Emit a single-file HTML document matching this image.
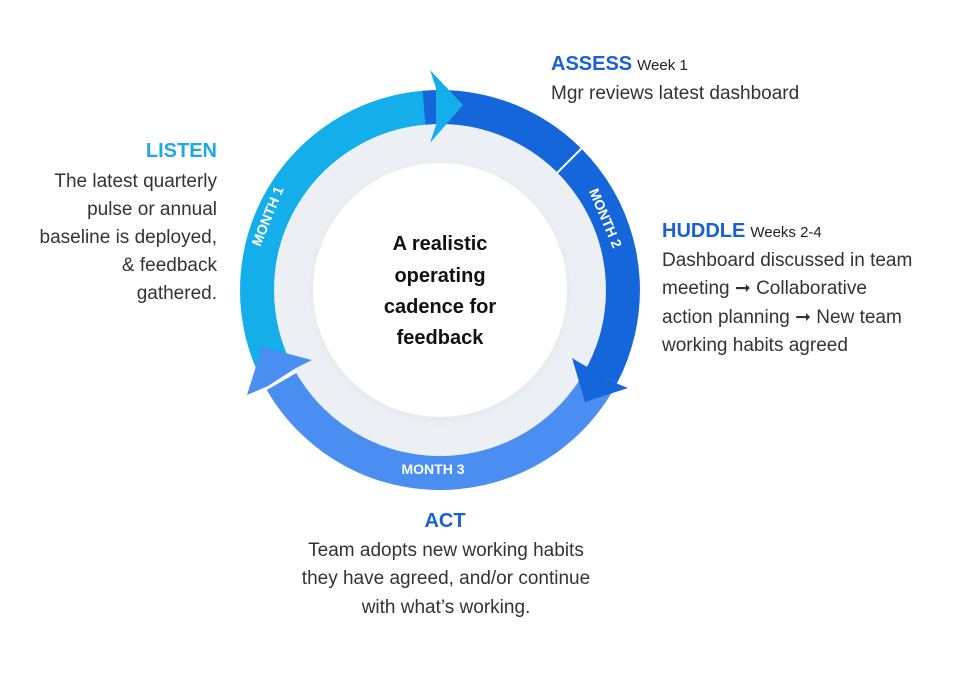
<!DOCTYPE html>
<html><head><meta charset="utf-8"><style>
body{margin:0;background:#fff;}
svg{display:block}
</style></head><body>
<svg width="979" height="691" viewBox="0 0 979 691" xmlns="http://www.w3.org/2000/svg" font-family="Liberation Sans, sans-serif">
<defs>
<filter id="sh" x="-20%" y="-20%" width="140%" height="140%"><feGaussianBlur stdDeviation="4"/></filter>
</defs>
<circle cx="440" cy="290" r="166" fill="#eceff3"/>
<circle cx="440" cy="292" r="128" fill="#dfe3e8" filter="url(#sh)" opacity="0.6"/>
<circle cx="440" cy="290" r="127" fill="#fff"/>
<g fill="none" stroke-width="34">
<path d="M612 352.6 A183 183 0 0 1 281.5 381.5" stroke="#4a8ef2"/>
<path d="M277 373.1 A183 183 0 0 1 433.6 107.1" stroke="#14aeea"/>
<path d="M424 107.7 A183 183 0 0 1 602 375" stroke="#1566da"/>
</g>
<polygon points="430,70 463,105 430,143 436,125 436,88" fill="#14aeea"/>
<polygon points="585,402 572,358 582,364 618,384 628,388" fill="#1566da"/>
<polygon points="262,347 312,360 296,368 268,386 247,395" fill="#4a8ef2"/>
<line x1="557.4" y1="172.6" x2="581.4" y2="148.6" stroke="#fff" stroke-width="2"/>
<g fill="#fff" font-weight="bold" font-size="14" text-anchor="middle">
<text transform="translate(272,218) rotate(-68)">MONTH 1</text>
<text transform="translate(601,220) rotate(67)">MONTH 2</text>
<text x="433" y="474">MONTH 3</text>
</g>
<g font-weight="bold" font-size="20" text-anchor="middle" fill="#111">
<text x="440" y="250">A realistic</text>
<text x="440" y="282">operating</text>
<text x="440" y="313">cadence for</text>
<text x="440" y="344">feedback</text>
</g>
<g font-size="19" fill="#333">
<text x="551" y="70"><tspan font-weight="bold" font-size="20" fill="#1a5fd6">ASSESS</tspan><tspan font-size="15" fill="#222" dx="5">Week 1</tspan></text>
<text x="551" y="99">Mgr reviews latest dashboard</text>
<g text-anchor="end">
<text x="217" y="157" font-weight="bold" font-size="20" fill="#1fa8e2">LISTEN</text>
<text x="217" y="187">The latest quarterly</text>
<text x="217" y="215">pulse or annual</text>
<text x="217" y="243">baseline is deployed,</text>
<text x="217" y="271">&amp; feedback</text>
<text x="217" y="299">gathered.</text>
</g>
<text x="662" y="237"><tspan font-weight="bold" font-size="20" fill="#1a5fd6">HUDDLE</tspan><tspan font-size="15" fill="#222" dx="5">Weeks 2-4</tspan></text>
<text x="662" y="266">Dashboard discussed in team</text>
<text x="662" y="294">meeting ➞  Collaborative</text>
<text x="662" y="323">action planning ➞ New team</text>
<text x="662" y="351">working habits agreed</text>
<g text-anchor="middle">
<text x="445" y="527" font-weight="bold" font-size="20" fill="#1a5fd6">ACT</text>
<text x="446" y="556">Team adopts new working habits</text>
<text x="446" y="584">they have agreed, and/or continue</text>
<text x="446" y="613">with what’s working.</text>
</g>
</g>
</svg>
</body></html>
